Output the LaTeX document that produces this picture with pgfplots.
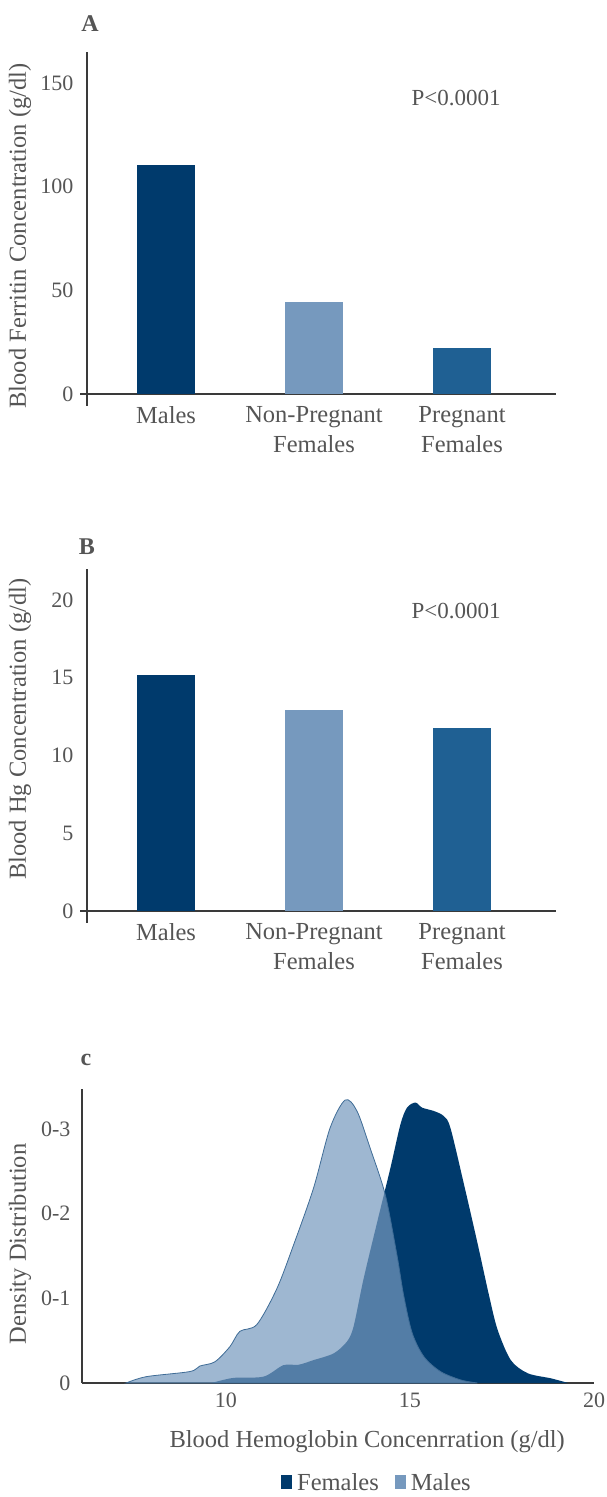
\documentclass[border=0pt]{standalone}
\usepackage{pgfplots}
\pgfplotsset{compat=1.18}
\usepackage{fontspec}
\setmainfont{Liberation Serif}

\definecolor{navy}{HTML}{003A6C}
\definecolor{steel}{HTML}{1F6093}
\definecolor{pale}{HTML}{7699BE}
\definecolor{edge}{HTML}{3F6C96}
\definecolor{textgray}{HTML}{555555}
\definecolor{axisgray}{HTML}{3A3A3A}

\pgfplotsset{
  panel/.style={
    scale only axis, anchor=south west, clip=false,
    axis lines=left,
    axis line style={-, draw=axisgray, line width=1.1pt},
    tick style={draw=none},
    ticklabel style={text=textgray, font=\fontsize{22}{26}\selectfont},
    label style={text=textgray, font=\fontsize{24.5}{29}\selectfont},
    /pgf/number format/assume math mode=true,
    ymin=0,
  },
  barpanel/.style={
    panel, width=469pt, height=342pt,
    xmin=-0.534, xmax=2.635,
    xtick={0,1,2},
    xticklabels={Males, Non-Pregnant\\Females, Pregnant\\Females},
    xticklabel style={align=center, font=\fontsize{24.5}{30}\selectfont, yshift=-7pt},
    yticklabel style={xshift=-8pt},
  },
}

\begin{document}
\begin{tikzpicture}
\useasboundingbox (0,0) rectangle (606pt,1497pt);

% panel A
\node[font=\bfseries\fontsize{24}{28}\selectfont, text=textgray] at (90pt,1473pt) {A};
\begin{axis}[barpanel, at={(87pt,1103pt)},
  ymax=165, ytick={0,50,100,150},
  ylabel={Blood Ferritin Concentration (g/dl)},
  ylabel style={at={(axis description cs:-0.143,0.462)}, anchor=center},
]
\addplot[ybar, bar width=58pt, bar shift=0pt, fill=navy, draw=none] coordinates {(0,110.5)};
\addplot[ybar, bar width=58pt, bar shift=0pt, fill=pale, draw=none] coordinates {(1,44.4)};
\addplot[ybar, bar width=58pt, bar shift=0pt, fill=steel, draw=none] coordinates {(2,22.2)};
\draw[axisgray, line width=1.1pt] (rel axis cs:0,0) -- ([yshift=-12pt]rel axis cs:0,0);
\draw[axisgray, line width=1.1pt] (rel axis cs:0,0) -- ([xshift=-7pt]rel axis cs:0,0);
\node[text=textgray, font=\fontsize{23}{27}\selectfont] at (axis cs:1.96,143) {P<0.0001};
\end{axis}

% panel B
\node[font=\bfseries\fontsize{24}{28}\selectfont, text=textgray] at (87pt,950pt) {B};
\begin{axis}[barpanel, at={(87pt,586pt)},
  ymax=22, ytick={0,5,10,15,20},
  ylabel={Blood Hg Concentration (g/dl)},
  ylabel style={at={(axis description cs:-0.143,0.532)}, anchor=center},
]
\addplot[ybar, bar width=58pt, bar shift=0pt, fill=navy, draw=none] coordinates {(0,15.2)};
\addplot[ybar, bar width=58pt, bar shift=0pt, fill=pale, draw=none] coordinates {(1,12.9)};
\addplot[ybar, bar width=58pt, bar shift=0pt, fill=steel, draw=none] coordinates {(2,11.8)};
\draw[axisgray, line width=1.1pt] (rel axis cs:0,0) -- ([yshift=-12pt]rel axis cs:0,0);
\draw[axisgray, line width=1.1pt] (rel axis cs:0,0) -- ([xshift=-7pt]rel axis cs:0,0);
\node[text=textgray, font=\fontsize{23}{27}\selectfont] at (axis cs:1.96,19.3) {P<0.0001};
\end{axis}

% panel C
\node[font=\bfseries\fontsize{24}{28}\selectfont, text=textgray] at (86pt,437pt) {c};
\begin{axis}[panel, at={(82pt,114pt)}, width=512pt, height=294pt,
  xmin=6.09, xmax=20, ymax=0.347,
  xtick={10,15,20}, ytick={0,0.1,0.2,0.3},
  yticklabels={0,0-1,0-2,0-3},
  yticklabel style={xshift=-6pt},
  xticklabel style={yshift=-4pt},
  xlabel={Blood Hemoglobin Concenrration (g/dl)},
  xlabel style={at={(axis description cs:0.557,-0.2)}, anchor=center},
  ylabel={Density Distribution},
  ylabel style={at={(axis description cs:-0.121,0.473)}, anchor=center},
  legend style={at={(axis description cs:0.576,-0.338)}, anchor=center,
    draw=none, fill=none, legend columns=2,
    font=\fontsize{24.5}{29}\selectfont, text=textgray,
    /tikz/every even column/.append style={column sep=14pt}},
  legend image code/.code={\fill (0pt,-7pt) rectangle (11pt,7pt); \path (14pt,0pt);},
]
\addplot[fill=navy, draw=none, smooth, forget plot] coordinates {
  (9.61,0) (10.20,0.006) (11.02,0.0075) (11.56,0.021) (11.97,0.0215)
  (12.38,0.027) (12.93,0.035) (13.29,0.049) (13.47,0.067) (13.74,0.123)
  (14.11,0.190) (14.47,0.254) (14.74,0.305) (14.92,0.325) (15.15,0.331)
  (15.33,0.325) (15.65,0.321) (15.92,0.315) (16.10,0.301) (16.47,0.234)
  (16.83,0.166) (17.15,0.103) (17.38,0.063) (17.74,0.027) (18.20,0.0115)
  (18.83,0.0055) (19.30,0)
} \closedcycle;
\addplot[fill=pale, fill opacity=0.71, draw=edge, line width=0.8pt, smooth, forget plot] coordinates {
  (7.29,0) (7.84,0.0075) (9.02,0.0135) (9.29,0.020) (9.70,0.025)
  (10.11,0.043) (10.38,0.061) (10.84,0.069) (11.38,0.111) (11.83,0.162)
  (12.38,0.230) (12.83,0.301) (13.24,0.334) (13.56,0.321) (13.92,0.277)
  (14.33,0.222) (14.65,0.150) (14.83,0.103) (15.06,0.059) (15.38,0.031)
  (15.83,0.0135) (16.38,0.0036) (16.83,0)
} \closedcycle;
\addlegendimage{fill=navy, draw=none}
\addlegendentry{Females}
\addlegendimage{fill=pale, draw=none}
\addlegendentry{Males}
\end{axis}
\end{tikzpicture}
\end{document}
